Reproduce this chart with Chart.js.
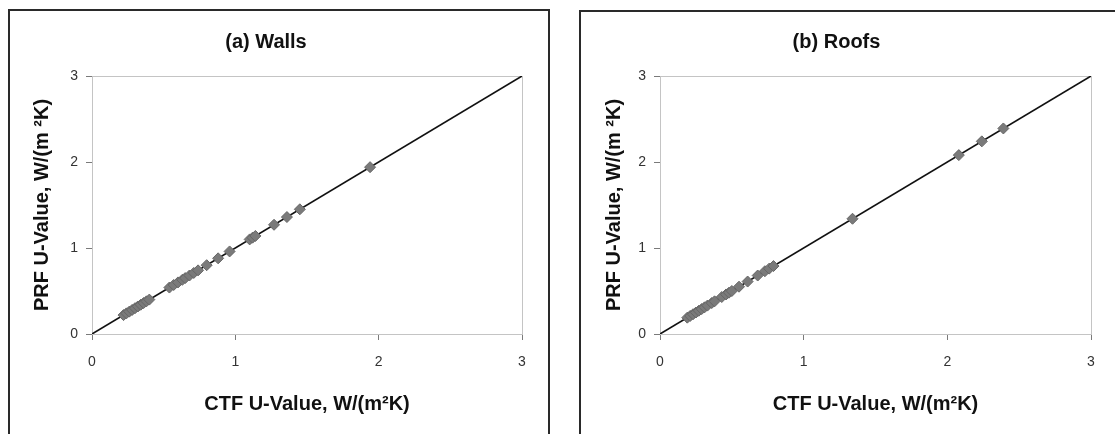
<!DOCTYPE html>
<html>
<head>
<meta charset="utf-8">
<script src="https://cdn.jsdelivr.net/npm/chart.js@4.4.1/dist/chart.umd.min.js"></script>
<style>
  html,body{margin:0;padding:0;background:#fff;width:1115px;height:434px;overflow:hidden;}
  .panel{position:absolute;border:2px solid #2a2a2a;box-sizing:border-box;}
  canvas{position:absolute;}
</style>
</head>
<body>
<div class="panel" style="left:8px;top:9px;width:542px;height:450px;"></div>
<div class="panel" style="left:579px;top:10px;width:560px;height:450px;"></div>
<canvas id="c1" width="537" height="422" style="left:10px;top:12px;width:537px;height:422px;"></canvas>
<canvas id="c2" width="533" height="422" style="left:582px;top:12px;width:533px;height:422px;"></canvas>
<script>
// ---- data ----
const wallsCTF = [0.22,0.24,0.26,0.28,0.30,0.32,0.34,0.36,0.38,0.40,0.54,0.57,0.60,0.63,0.65,0.68,0.71,0.74,0.80,0.88,0.96,1.10,1.12,1.14,1.27,1.36,1.45,1.94];
const wallsPRF = [0.22,0.24,0.26,0.28,0.30,0.32,0.34,0.36,0.38,0.40,0.54,0.57,0.60,0.63,0.65,0.68,0.71,0.74,0.80,0.88,0.96,1.10,1.12,1.14,1.27,1.36,1.45,1.94];
const roofsCTF = [0.19,0.21,0.23,0.25,0.27,0.29,0.31,0.33,0.36,0.38,0.43,0.46,0.48,0.50,0.55,0.61,0.68,0.73,0.76,0.79,1.34,2.08,2.24,2.39];
const roofsPRF = [0.19,0.21,0.23,0.25,0.27,0.29,0.31,0.33,0.36,0.38,0.43,0.46,0.48,0.50,0.55,0.61,0.68,0.73,0.76,0.79,1.34,2.08,2.24,2.39];
const lineX = [0, 3];
const lineY = [0, 3];
const tickValues = [0, 1, 2, 3];
const titles = ['(a) Walls', '(b) Roofs'];
const xTitle = 'CTF U-Value, W/(m\u00B2K)';
const yTitle = 'PRF U-Value, W/(m \u00B2K)';

const FONT = "'Liberation Sans', Arial, sans-serif";

const frame = {
  id: 'frame',
  beforeDatasetsDraw(chart) {
    const a = chart.chartArea, ctx = chart.ctx;
    ctx.save();
    ctx.strokeStyle = '#c4c4c4';
    ctx.lineWidth = 1;
    ctx.strokeRect(a.left + 0.5, a.top + 0.5, a.right - a.left, a.bottom - a.top);
    ctx.restore();
  }
};

function makeChart(id, title, xs, ys, padRight, yWidth) {
  const pts = xs.map((x, i) => ({x: x, y: ys[i]}));
  const linePts = lineX.map((x, i) => ({x: x, y: lineY[i]}));
  const axisCommon = {
    type: 'linear', min: 0, max: 3,
    afterBuildTicks(scale) { scale.ticks = tickValues.map(v => ({value: v})); },
    grid: { display: true, drawOnChartArea: false, drawTicks: true, tickLength: 6, color: '#7a7a7a', lineWidth: 1 },
    border: { display: true, color: '#7a7a7a', width: 1 },
    ticks: { color: '#333', font: { family: FONT, size: 14 } }
  };
  return new Chart(document.getElementById(id), {
    data: {
      datasets: [
        { type: 'scatter', data: pts, pointStyle: 'rectRot', pointRadius: 5.5,
          backgroundColor: '#7a7a7a', borderColor: '#666', borderWidth: 1, order: 1 },
        { type: 'line', data: linePts, borderColor: '#111', borderWidth: 1.6,
          pointRadius: 0, fill: false, order: 2 }
      ]
    },
    options: {
      responsive: false, animation: false,
      layout: { padding: { left: 0, right: padRight, top: 0, bottom: 0 } },
      plugins: {
        legend: { display: false }, tooltip: { enabled: false },
        title: { display: true, text: title, color: '#111',
          font: { family: FONT, size: 20, weight: 'bold' },
          padding: { top: 18, bottom: 22 } }
      },
      scales: {
        x: Object.assign({}, axisCommon, {
          position: 'bottom',
          ticks: Object.assign({}, axisCommon.ticks, { padding: 14 }),
          title: { display: true, text: xTitle, color: '#111',
            font: { family: FONT, size: 20, weight: 'bold' }, padding: { top: 0, bottom: 18 } },
          afterFit(s) { s.height = 100; }
        }),
        y: Object.assign({}, axisCommon, {
          position: 'left',
          ticks: Object.assign({}, axisCommon.ticks, { padding: 8 }),
          title: { display: true, text: yTitle, color: '#111',
            font: { family: FONT, size: 20, weight: 'bold' }, padding: { top: 20, bottom: 0 } },
          afterFit(s) { s.width = yWidth; }
        })
      }
    },
    plugins: [frame]
  });
}

makeChart('c1', titles[0], wallsCTF, wallsPRF, 25, 82);
makeChart('c2', titles[1], roofsCTF, roofsPRF, 24, 78);
</script>
</body>
</html>
